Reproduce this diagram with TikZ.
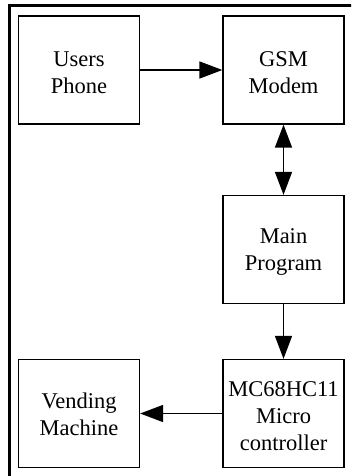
\documentclass[tikz,border=0pt]{standalone}
\usepackage{fontspec}
\setmainfont{Liberation Serif}
\usetikzlibrary{arrows.meta}
\begin{document}
\begin{tikzpicture}[x=1pt,y=-1pt,
  block/.style={draw, line width=1.3pt, minimum width=121pt, minimum height=108pt,
    inner sep=0pt},
  caption/.style={inner sep=0pt, align=center, font=\fontsize{22.5pt}{27pt}\selectfont},
  link/.style={line width=1.5pt, -{Triangle[length=23pt,width=17pt]}},
  biglink/.style={line width=1.5pt, {Triangle[length=23pt,width=17pt]}-{Triangle[length=23pt,width=17pt]}}]
  \clip (0,0) rectangle (351,476);
  \fill[white] (0,0) rectangle (351,476);
  % frame around the system
  \draw[line width=3pt] (9.5,490) -- (9.5,6) -- (370,6);
  % blocks
  \node[block] (phone) at (79,70) {};
  \node[block] (gsm) at (283.5,70) {};
  \node[block] (prog) at (283.5,249.5) {};
  \node[block] (mcu) at (283.5,413.5) {};
  \node[block] (vend) at (79,413.5) {};
  % block captions
  \node[caption] (phone text) at ([yshift=-3pt]phone.center) {Users\\Phone};
  \node[caption] (gsm text) at ([yshift=-3pt]gsm.center) {GSM\\Modem};
  \node[caption] (prog text) at ([yshift=-2pt]prog.center) {Main\\Program};
  \node[caption] (mcu text) at ([yshift=-3pt]mcu.center) {MC68HC11\\Micro\\controller};
  \node[caption] (vend text) at ([yshift=-1pt]vend.center) {Vending\\Machine};
  % connections
  \draw[link] (phone) -- (gsm);
  \draw[biglink] (gsm) -- (prog);
  \draw[link] (prog) -- (mcu);
  \draw[link] (mcu) -- (vend);
\end{tikzpicture}
\end{document}
